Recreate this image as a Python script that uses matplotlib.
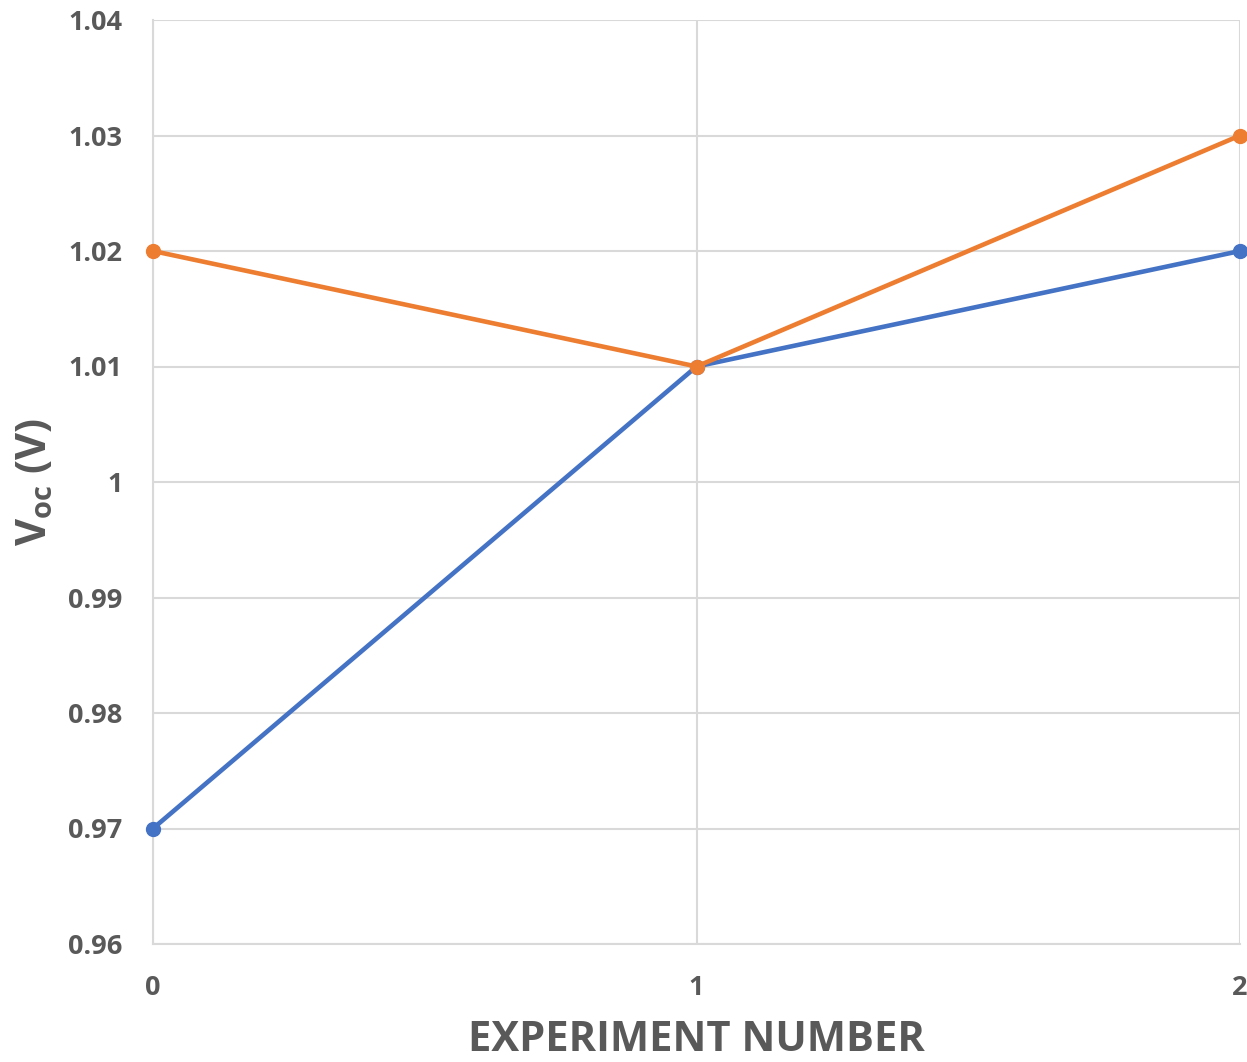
import matplotlib
matplotlib.use("Agg")
import matplotlib.pyplot as plt

plt.rcParams['font.family'] = ['Open Sans', 'DejaVu Sans']
plt.rcParams['mathtext.default'] = 'regular'

experiments = [0, 1, 2]
voc_blue = [0.97, 1.01, 1.02]
voc_orange = [1.02, 1.01, 1.03]
y_ticks = [0.96, 0.97, 0.98, 0.99, 1.00, 1.01, 1.02, 1.03, 1.04]
y_tick_labels = ["0.96", "0.97", "0.98", "0.99", "1", "1.01", "1.02", "1.03", "1.04"]
x_ticks = [0, 1, 2]

text_color = "#595959"
grid_color = "#D9D9D9"

fig = plt.figure(figsize=(12.47, 10.62), dpi=100)
ax = fig.add_axes([153 / 1247, 118 / 1062, (1240 - 153) / 1247, (944 - 20) / 1062])

ax.plot(experiments, voc_blue, color="#4472C4", lw=3.3, marker="o", ms=10,
        clip_on=False, zorder=3)
ax.plot(experiments, voc_orange, color="#ED7D31", lw=3.3, marker="o", ms=10,
        clip_on=False, zorder=4)

ax.set_xlim(0, 2)
ax.set_ylim(0.96, 1.04)
ax.set_xticks(x_ticks)
ax.set_xticklabels([str(v) for v in x_ticks])
ax.set_yticks(y_ticks)
ax.set_yticklabels(y_tick_labels)

ax.grid(True, color=grid_color, lw=1.5, zorder=0)
ax.set_axisbelow(True)
for side in ["top", "right"]:
    ax.spines[side].set_visible(False)
for side in ["left", "bottom"]:
    ax.spines[side].set_color(grid_color)
    ax.spines[side].set_linewidth(1.5)

ax.tick_params(axis="both", length=0, labelsize=19.5, labelcolor=text_color)
ax.tick_params(axis="y", pad=22)
ax.tick_params(axis="x", pad=22)
for lbl in ax.get_xticklabels() + ax.get_yticklabels():
    lbl.set_fontweight("bold")

ax.set_xlabel("EXPERIMENT NUMBER", fontsize=30, fontweight="bold",
              color=text_color, va="baseline")
ax.xaxis.set_label_coords(0.5, -0.1155)
ax.set_ylabel(r"V$_{oc}$ (V)", fontsize=30, fontweight="bold",
              color=text_color, va="center")
ax.yaxis.set_label_coords(-0.108, 0.5)

fig.savefig("out.png", dpi=100)
